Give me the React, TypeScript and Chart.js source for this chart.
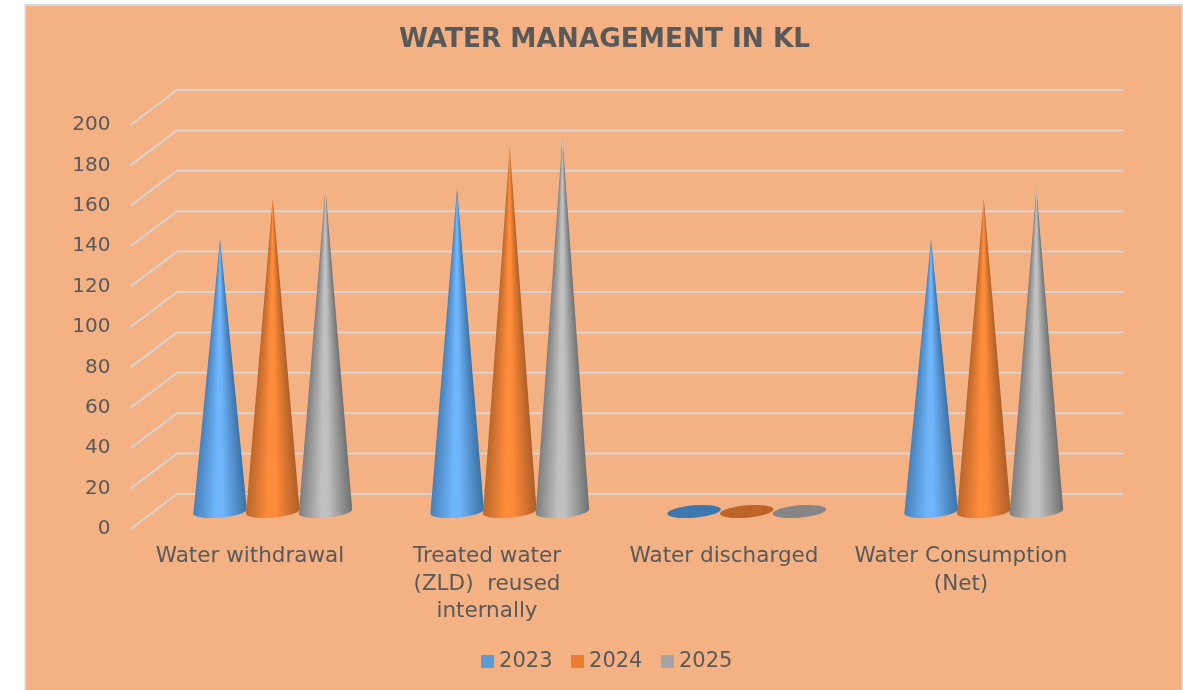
import React, { useEffect, useRef } from "react";
import { Chart, registerables } from "chart.js";

Chart.register(...registerables);

const categories = [
  "Water withdrawal",
  ["Treated water", "(ZLD)  reused", "internally"],
  "Water discharged",
  ["Water Consumption", "(Net)"],
];
const years = ["2023", "2024", "2025"];
const values2023 = [135, 160, 0, 135];
const values2024 = [155, 180, 0, 155];
const values2025 = [160, 185, 0, 160];
const legendColors = ["#5B9BD5", "#ED7D31", "#A5A5A5"];
const yTicks = { min: 0, max: 200, step: 20 };

const TEXT = "#595959";
const BG = "#F4B183";
const GRID = "#DBD3CD";
const FONT = "'DejaVu Sans', Verdana, sans-serif";

// depth of the pseudo-3D floor
const DEPTH_X = 46.5;
const DEPTH_Y = 35;
const TILT = (5 * Math.PI) / 180;
const RY = 6.2;

const coneShades = [
  { edgeL: "#467FB8", mid: "#6EB5FA", edgeR: "#3C70A4", flat: "#3C78AE" },
  { edgeL: "#B8652A", mid: "#FF8C3A", edgeR: "#AC5E27", flat: "#BE6428" },
  { edgeL: "#7C7C7C", mid: "#C0C0C0", edgeR: "#6F6F6F", flat: "#858585" },
];

const conePlugin = {
  id: "cones",
  beforeDraw(chart: any) {
    const { ctx, width, height } = chart;
    ctx.save();
    ctx.fillStyle = "#FFFFFF";
    ctx.fillRect(0, 0, width, height);
    ctx.fillStyle = "#D9D9D9";
    ctx.fillRect(24.5, 4, width - 24.5, height - 4);
    ctx.fillStyle = BG;
    ctx.fillRect(26, 6, width - 26 - 1.5, height - 6);
    ctx.restore();
  },
  beforeDatasetsDraw(chart: any) {
    const { ctx } = chart;
    const yScale = chart.scales.y;
    const xScale = chart.scales.x;
    ctx.save();
    // floor-and-wall gridlines
    ctx.strokeStyle = GRID;
    ctx.lineWidth = 2;
    ctx.lineJoin = "round";
    yScale.ticks.forEach((t: any) => {
      const y = yScale.getPixelForValue(t.value);
      ctx.beginPath();
      ctx.moveTo(xScale.left - 1, y);
      ctx.lineTo(xScale.left - 1 + DEPTH_X, y - DEPTH_Y);
      ctx.lineTo(xScale.right + 44, y - DEPTH_Y);
      ctx.stroke();
    });
    // cones
    chart.data.datasets.forEach((ds: any, di: number) => {
      const meta = chart.getDatasetMeta(di);
      const shade = coneShades[di];
      meta.data.forEach((bar: any) => {
        const p = bar.getProps(["x", "y", "base", "width"], true);
        const cx = p.x + DEPTH_X / 2 - 0.5;
        const baseY = p.base - DEPTH_Y / 2;
        const tipY = p.y - DEPTH_Y / 2;
        const rx = p.width / 2;
        const h = baseY - tipY;
        if (h < 1) {
          ctx.beginPath();
          ctx.ellipse(cx, baseY, rx, RY, -TILT, 0, Math.PI * 2);
          ctx.fillStyle = shade.flat;
          ctx.fill();
          return;
        }
        const lx = cx - rx * Math.cos(TILT);
        const ly = baseY + rx * Math.sin(TILT);
        const half = Math.atan2(rx, h);
        const grad = ctx.createConicGradient(Math.PI / 2 - half * 1.02, cx, tipY);
        const span = (2 * half * 1.02) / (Math.PI * 2);
        grad.addColorStop(0, shade.edgeR);
        grad.addColorStop(span * 0.45, shade.mid);
        grad.addColorStop(span * 0.58, shade.mid);
        grad.addColorStop(span, shade.edgeL);
        grad.addColorStop(1, shade.edgeL);
        ctx.beginPath();
        ctx.moveTo(cx, tipY);
        ctx.lineTo(lx, ly);
        ctx.ellipse(cx, baseY, rx, RY, -TILT, Math.PI, 0, true);
        ctx.closePath();
        ctx.fillStyle = grad;
        ctx.fill();
      });
    });
    ctx.restore();
    return false;
  },
  afterDraw(chart: any) {
    // legend swatches sit closer to their text than the built-in gap allows
    const { ctx } = chart;
    const boxes = chart.legend.legendHitBoxes;
    ctx.save();
    boxes.forEach((b: any, i: number) => {
      ctx.fillStyle = legendColors[i];
      ctx.fillRect(b.left + 4.5, b.top + b.height / 2 - 6.5, 13, 13);
    });
    ctx.restore();
  },
};

export default function App() {
  const ref = useRef<HTMLCanvasElement | null>(null);
  useEffect(() => {
    if (!ref.current) return;
    const series = [values2023, values2024, values2025];
    const chart = new Chart(ref.current, {
      type: "bar",
      data: {
        labels: categories as any,
        datasets: years.map((y, i) => ({
          label: y,
          data: series[i],
          backgroundColor: legendColors[i],
          borderWidth: 0,
          categoryPercentage: 2 / 3,
          barPercentage: 1.02,
        })),
      },
      plugins: [conePlugin as any],
      options: {
        animation: false,
        responsive: false,
        devicePixelRatio: 1,
        layout: { padding: { left: 26, right: 0, top: 0, bottom: 8 } },
        plugins: {
          tooltip: { enabled: false },
          title: {
            display: true,
            text: "WATER MANAGEMENT IN KL",
            color: TEXT,
            font: { family: FONT, size: 26.3, weight: "bold" },
            padding: { top: 24.8, bottom: 68.64 },
          },
          legend: {
            position: "bottom",
            labels: {
              color: TEXT,
              boxWidth: 12,
              boxHeight: 12,
              padding: 14,
              font: { family: FONT, size: 21 },
              generateLabels(chart: any) {
                return chart.data.datasets.map((d: any, i: number) => ({
                  text: d.label,
                  fillStyle: "rgba(0,0,0,0)",
                  strokeStyle: "rgba(0,0,0,0)",
                  lineWidth: 0,
                  fontColor: TEXT,
                  datasetIndex: i,
                }));
              },
            },
          },
        },
        scales: {
          x: {
            grid: { display: false, drawTicks: false },
            border: { display: false },
            ticks: {
              color: TEXT,
              font: { family: FONT, size: 21.5, lineHeight: 1.27 },
              padding: 14,
              maxRotation: 0,
              autoSkip: false,
            },
            afterFit(s: any) {
              s.height = 108;
            },
          },
          y: {
            min: yTicks.min,
            max: yTicks.max,
            grid: { display: false, drawTicks: false },
            border: { display: false },
            ticks: {
              stepSize: yTicks.step,
              color: TEXT,
              font: { family: FONT, size: 20 },
              padding: 21,
            },
            afterFit(s: any) {
              s.width = 105.5;
            },
          },
          yRight: {
            position: "right",
            grid: { display: false, drawTicks: false },
            border: { display: false },
            ticks: { display: false },
            afterFit(s: any) {
              s.width = 103.5;
            },
          },
        },
      },
    } as any);
    return () => chart.destroy();
  }, []);
  return (
    <canvas
      ref={ref}
      width={1183}
      height={690}
      style={{ position: "absolute", left: 0, top: 0, display: "block", width: 1183, height: 690 }}
    />
  );
}
